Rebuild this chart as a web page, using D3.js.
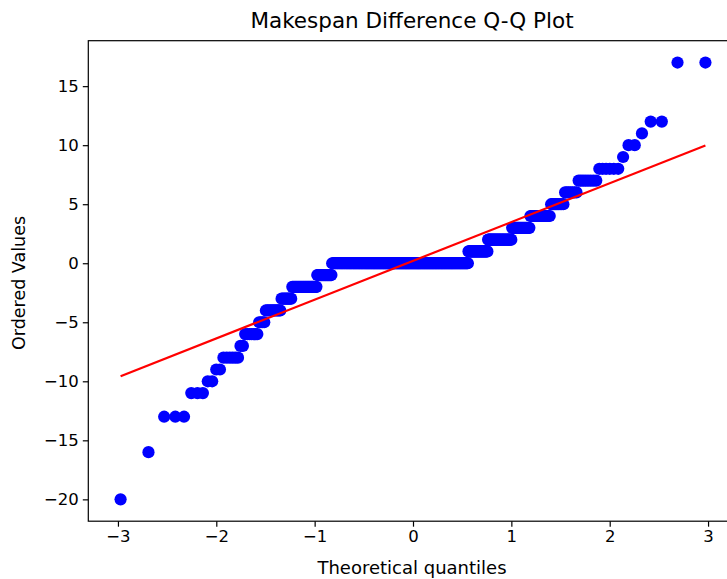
<!DOCTYPE html>
<html>
<head>
<meta charset="utf-8">
<script src="https://cdn.jsdelivr.net/npm/d3@7"></script>
<style>
  html, body { margin: 0; padding: 0; background: #fff; }
  svg { display: block; font-family: "DejaVu Sans", sans-serif; }
</style>
</head>
<body>
<svg id="chart" width="727" height="579"></svg>
<script>
// Makespan differences: each distinct value and how many runs produced it
const diffValues = [-20, -16, -13, -11, -10, -9, -8, -7, -6, -5, -4, -3, -2, -1,
                    0, 1, 2, 3, 4, 5, 6, 7, 8, 9, 10, 11, 12, 17];
const diffCounts = [1, 1, 3, 3, 2, 2, 6, 2, 7, 4, 11, 9, 26, 19,
                    239, 30, 31, 19, 17, 9, 7, 8, 6, 1, 2, 1, 2, 2];
const xTickValues = [-3, -2, -1, 0, 1, 2, 3];
const yTickValues = [-20, -15, -10, -5, 0, 5, 10, 15];

const titleText = "Makespan Difference Q-Q Plot";
const xLabelText = "Theoretical quantiles";
const yLabelText = "Ordered Values";

// Ordered sample
const ordered = [];
diffValues.forEach((v, k) => { for (let j = 0; j < diffCounts[k]; j++) ordered.push(v); });
const n = ordered.length;

// Inverse standard normal CDF (Acklam's rational approximation)
function normPpf(p) {
  const a = [-3.969683028665376e+01, 2.209460984245205e+02, -2.759285104469687e+02,
             1.383577518672690e+02, -3.066479806614716e+01, 2.506628277459239e+00];
  const b = [-5.447609879822406e+01, 1.615858368580409e+02, -1.556989798598866e+02,
             6.680131188771972e+01, -1.328068155288572e+01];
  const c = [-7.784894002430293e-03, -3.223964580411365e-01, -2.400758277161838e+00,
             -2.549732539343734e+00, 4.374664141464968e+00, 2.938163982698783e+00];
  const d = [7.784695709041462e-03, 3.224671290700398e-01, 2.445134137142996e+00,
             3.754408661907416e+00];
  const pl = 0.02425, ph = 1 - pl;
  let q, r;
  if (p < pl) {
    q = Math.sqrt(-2 * Math.log(p));
    return (((((c[0]*q+c[1])*q+c[2])*q+c[3])*q+c[4])*q+c[5]) /
           ((((d[0]*q+d[1])*q+d[2])*q+d[3])*q+1);
  } else if (p <= ph) {
    q = p - 0.5; r = q * q;
    return (((((a[0]*r+a[1])*r+a[2])*r+a[3])*r+a[4])*r+a[5])*q /
           (((((b[0]*r+b[1])*r+b[2])*r+b[3])*r+b[4])*r+1);
  } else {
    q = Math.sqrt(-2 * Math.log(1 - p));
    return -(((((c[0]*q+c[1])*q+c[2])*q+c[3])*q+c[4])*q+c[5]) /
            ((((d[0]*q+d[1])*q+d[2])*q+d[3])*q+1);
  }
}

// Filliben order-statistic medians
const medians = d3.range(1, n + 1).map(i => (i - 0.3175) / (n + 0.365));
medians[n - 1] = Math.pow(0.5, 1 / n);
medians[0] = 1 - medians[n - 1];
const points = ordered.map((v, i) => ({ q: normPpf(medians[i]), v }));

// Least-squares reference line
const mq = d3.mean(points, d => d.q), mv = d3.mean(points, d => d.v);
const slope = d3.sum(points, d => (d.q - mq) * (d.v - mv)) / d3.sum(points, d => (d.q - mq) ** 2);
const intercept = mv - slope * mq;
const qExt = d3.extent(points, d => d.q);
const vExt = d3.extent(points, d => d.v);

// Layout
const plot = { left: 88.3, top: 40.7, width: 649.4, height: 480.5 };
const pad = (ext, f) => { const m = (ext[1] - ext[0]) * f; return [ext[0] - m, ext[1] + m]; };

const x = d3.scaleLinear().domain(pad(qExt, 0.0552)).range([plot.left, plot.left + plot.width]);
const y = d3.scaleLinear().domain(pad(vExt, 0.05)).range([plot.top + plot.height, plot.top]);

const svg = d3.select("#chart");
const fmt = d => (d < 0 ? "\u2212" + Math.abs(d) : String(d));

svg.append("clipPath").attr("id", "plotClip")
  .append("rect").attr("x", plot.left).attr("y", plot.top)
  .attr("width", plot.width).attr("height", plot.height);

const g = svg.append("g").attr("clip-path", "url(#plotClip)");

g.selectAll("circle").data(points).join("circle")
  .attr("cx", d => x(d.q)).attr("cy", d => y(d.v))
  .attr("r", 6.1).attr("fill", "#0000ff");

g.append("line")
  .attr("x1", x(qExt[0])).attr("y1", y(slope * qExt[0] + intercept))
  .attr("x2", x(qExt[1])).attr("y2", y(slope * qExt[1] + intercept))
  .attr("stroke", "#ff0000").attr("stroke-width", 2.2);

// Axes
const xAxis = svg.append("g")
  .attr("transform", `translate(0,${plot.top + plot.height})`)
  .call(d3.axisBottom(x).tickValues(xTickValues).tickFormat(fmt).tickSize(5.5).tickPadding(4));
const yAxis = svg.append("g")
  .attr("transform", `translate(${plot.left},0)`)
  .call(d3.axisLeft(y).tickValues(yTickValues).tickFormat(fmt).tickSize(5.5).tickPadding(4));

[xAxis, yAxis].forEach(ax => {
  ax.select(".domain").remove();
  ax.selectAll(".tick line").attr("stroke", "#000").attr("stroke-width", 1.2);
  ax.selectAll(".tick text").attr("fill", "#000")
    .style("font-size", "16.5px").style("font-family", "DejaVu Sans, sans-serif");
});

// Frame
svg.append("rect")
  .attr("x", plot.left).attr("y", plot.top)
  .attr("width", plot.width).attr("height", plot.height)
  .attr("fill", "none").attr("stroke", "#000").attr("stroke-width", 1.2);

// Titles
svg.append("text")
  .attr("x", 412).attr("y", 28)
  .attr("text-anchor", "middle").style("font-size", "21.5px").attr("fill", "#000")
  .text(titleText);

svg.append("text")
  .attr("x", 412).attr("y", 573.5)
  .attr("text-anchor", "middle").style("font-size", "18px").attr("fill", "#000")
  .text(xLabelText);

svg.append("text")
  .attr("transform", `translate(25,${(plot.top + plot.top + plot.height) / 2 + 2}) rotate(-90)`)
  .attr("text-anchor", "middle").style("font-size", "17.5px").attr("fill", "#000")
  .text(yLabelText);
</script>
</body>
</html>
